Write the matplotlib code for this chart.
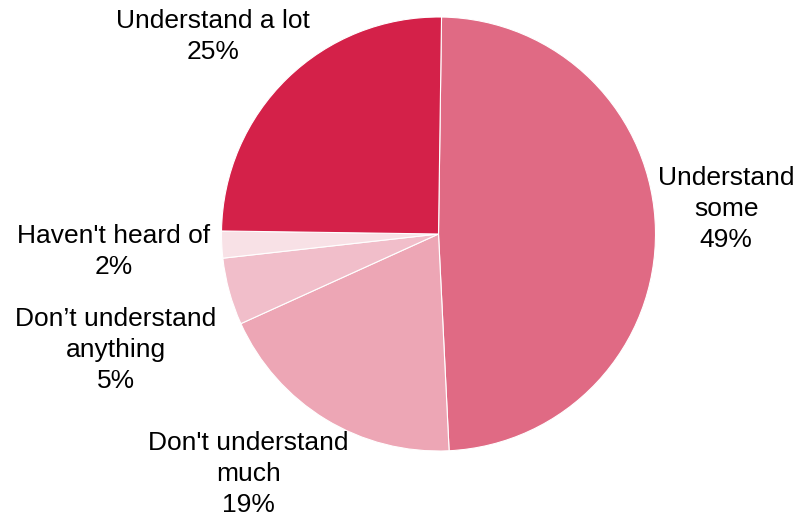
import matplotlib
matplotlib.use("Agg")
import matplotlib.pyplot as plt

# share of respondents by level of understanding
labels = ["Understand\nsome", "Don't understand\nmuch", "Don\u2019t understand\nanything",
          "Haven't heard of", "Understand a lot"]
shares = [49, 19, 5, 2, 25]
colors = ["#E06A84", "#EDA6B5", "#F1BECA", "#F8E1E6", "#D42149"]

# label centres in pie units (radius = 1)
label_pos = [(1.326, 0.117), (-0.876, -1.106), (-1.487, -0.536),
             (-1.497, -0.080), (-1.041, 0.908)]

plt.rcParams['font.family'] = ['Liberation Sans', 'DejaVu Sans']

W, H = 798, 517
fig = plt.figure(figsize=(W / 100, H / 100), dpi=100)
cx, cy, r = 438.5, 234.0, 217.0
ax = fig.add_axes([(cx - r) / W, (H - cy - r) / H, 2 * r / W, 2 * r / H])

wedges, _ = ax.pie(shares, colors=colors, startangle=89.2, counterclock=False,
                   radius=1, wedgeprops=dict(edgecolor="white", linewidth=0.8))
ax.set_xlim(-1, 1)
ax.set_ylim(-1, 1)
ax.set_aspect("equal")
ax.axis("off")

for lab, val, (x, y) in zip(labels, shares, label_pos):
    ax.text(x, y, f"{lab}\n{val}%", ha="center", va="center", fontsize=19,
            linespacing=1.37, color="black", clip_on=False)

fig.savefig("out.png", dpi=100)
